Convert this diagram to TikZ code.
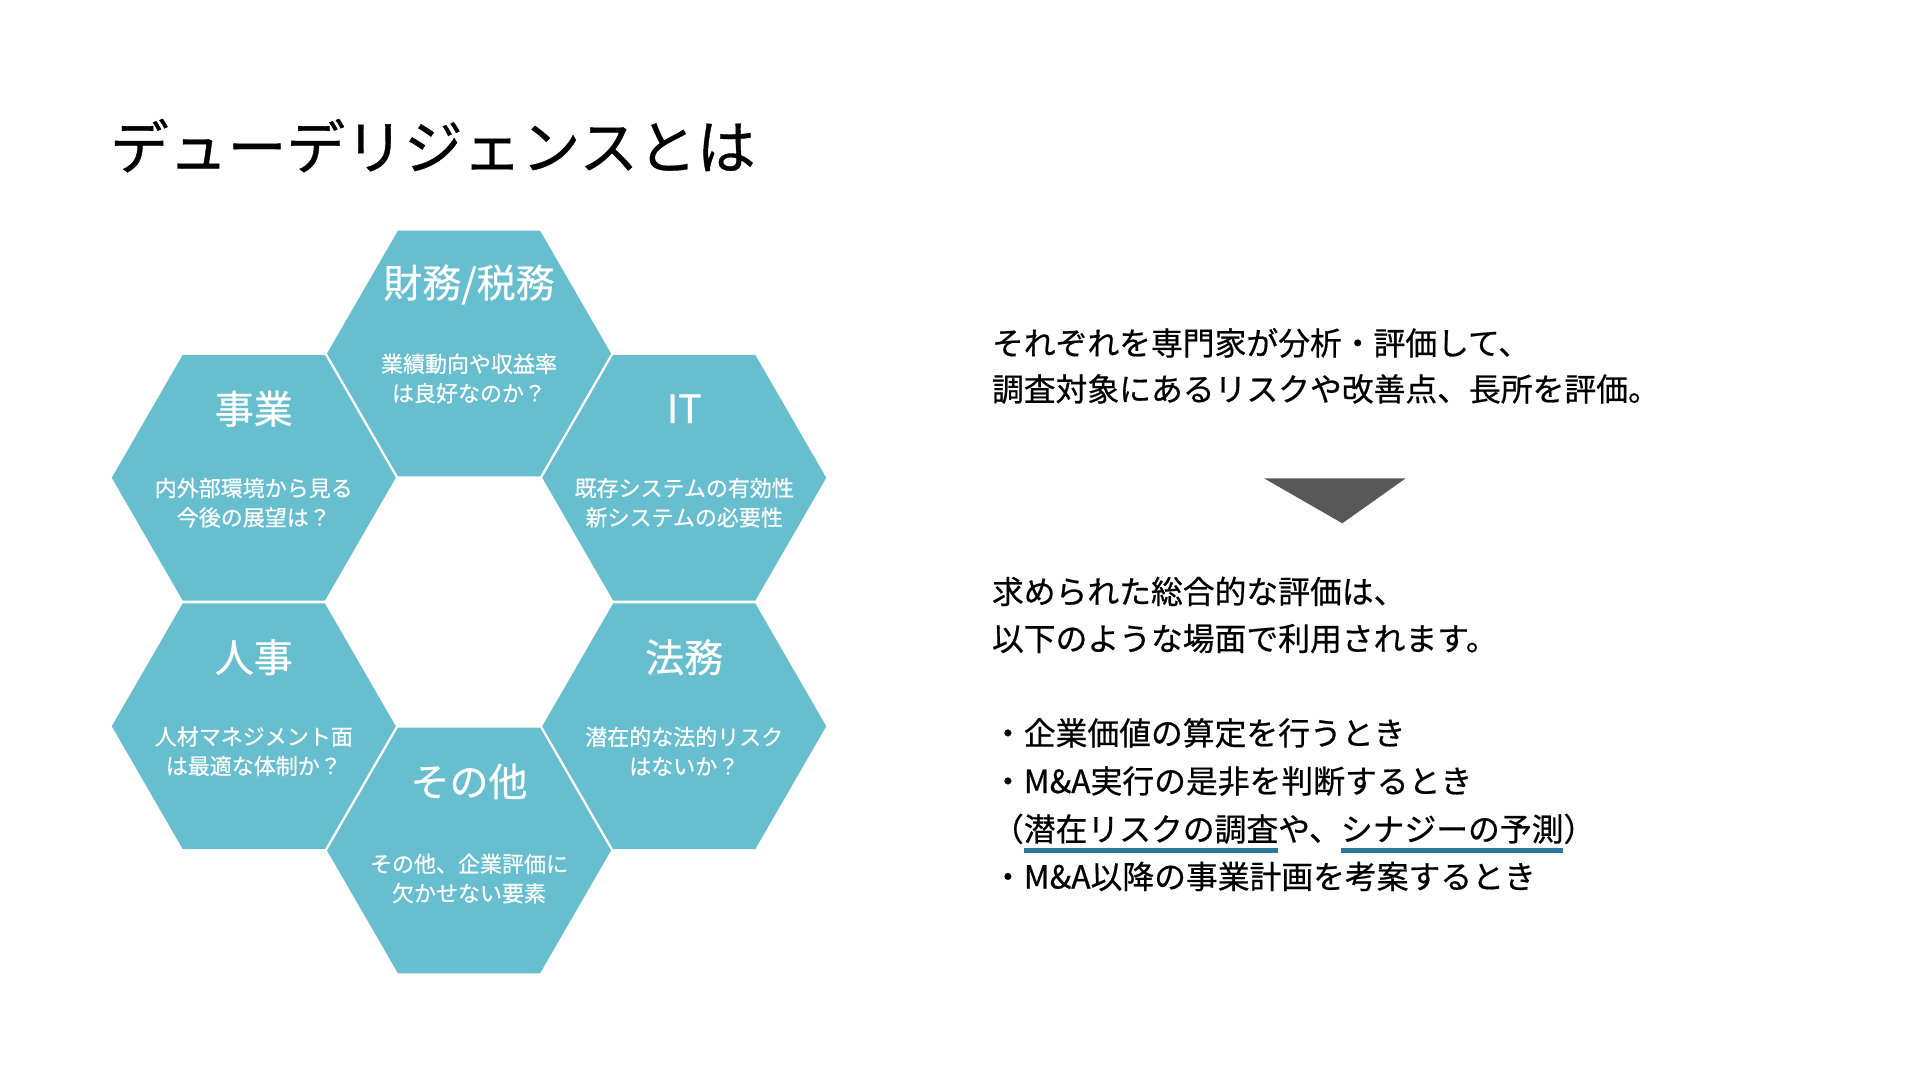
\documentclass[tikz,border=0pt]{standalone}
\usepackage{fontspec}
\setmainfont{Noto Sans CJK JP}[FakeBold=0.6]
\usepackage{tikz}
\usetikzlibrary{shapes.geometric}
\usepackage{xcolor}
\definecolor{hexteal}{RGB}{103,190,207}
\definecolor{lineblue}{RGB}{44,122,155}
\definecolor{arrowgray}{RGB}{88,88,88}

\begin{document}
\begin{tikzpicture}[x=0.5pt,y=-0.5pt,
          every node/.style={inner sep=0pt,outer sep=0pt},
          hex/.style={regular polygon,regular polygon sides=6,fill=hexteal,minimum size=142pt},
          hextitle/.style={text=white,font=\fontsize{19.5}{23}\selectfont},
          hexsub/.style={text=white,align=center,font=\fontsize{11}{14.7}\selectfont},
          body/.style={anchor=base west,font=\fontsize{15.9}{23.4}\selectfont},
          heading/.style={anchor=base west,font=\fontsize{29.4}{35}\selectfont},
          uline/.style={lineblue,line width=2.5pt},
        ]
        \useasboundingbox[fill=white] (0,0) rectangle (1920,1080);
        \node[heading] (title) at (110,169) {デューデリジェンスとは};
        \foreach \a/\n in {90/fin,150/biz,210/hr,270/etc,330/law,30/it} {
          \node[hex] (hex-\n) at ({469+248.5*cos(\a)},{602-248.5*sin(\a)}) {};
        }
        \node[hextitle] (fin-title) at ([yshift=34.5pt]hex-fin.center) {財務/税務};
        \node[hexsub] (fin-sub) at ([yshift=-12.5pt]hex-fin.center) {業績動向や収益率\\は良好なのか？};
        \node[hextitle] (biz-title) at ([yshift=34.5pt]hex-biz.center) {事業};
        \node[hexsub] (biz-sub) at ([yshift=-12.5pt]hex-biz.center) {内外部環境から見る\\今後の展望は？};
        \node[hextitle] (it-title) at ([yshift=34.5pt]hex-it.center) {IT};
        \node[hexsub] (it-sub) at ([yshift=-12.5pt]hex-it.center) {既存システムの有効性\\新システムの必要性};
        \node[hextitle] (hr-title) at ([yshift=34.5pt]hex-hr.center) {人事};
        \node[hexsub] (hr-sub) at ([yshift=-12.5pt]hex-hr.center) {人材マネジメント面\\は最適な体制か？};
        \node[hextitle] (law-title) at ([yshift=34.5pt]hex-law.center) {法務};
        \node[hexsub] (law-sub) at ([yshift=-12.5pt]hex-law.center) {潜在的な法的リスク\\はないか？};
        \node[hextitle] (etc-title) at ([yshift=34.5pt]hex-etc.center) {その他};
        \node[hexsub] (etc-sub) at ([yshift=-14pt]hex-etc.center) {その他、企業評価に\\欠かせない要素};

        \node[body] (eval-a) at (992,355) {それぞれを専門家が分析・評価して、};
        \node[body] (eval-b) at (992,401) {調査対象にあるリスクや改善点、長所を評価。};
        \fill[arrowgray] (1264,478.3) -- (1405.7,478.3) -- (1342.3,523.3) -- cycle;
        \node[body] (use-a) at (992,603.5) {求められた総合的な評価は、};
        \node[body] (use-b) at (992,650.5) {以下のような場面で利用されます。};
        \node[body] (case-a) at (992,745) {・企業価値の算定を行うとき};
        \node[body] (case-b) at (992,793) {・M\&A実行の是非を判断するとき};
        \node[body] (paren-l) at (992,841) {（};
        \node[body] (risk) at (paren-l.base east) {潜在リスクの調査};
        \node[body] (mid) at (risk.base east) {や、};
        \node[body] (synergy) at (mid.base east) {シナジーの予測};
        \node[body] (paren-r) at (synergy.base east) {）};
        \node[body] (case-c) at (992,888.5) {・M\&A以降の事業計画を考案するとき};
        \draw[uline] ([yshift=-4.5pt]risk.base west) -- ([yshift=-4.5pt]risk.base east);
        \draw[uline] ([yshift=-4.5pt]synergy.base west) -- ([yshift=-4.5pt]synergy.base east);
      \end{tikzpicture}
\end{document}
